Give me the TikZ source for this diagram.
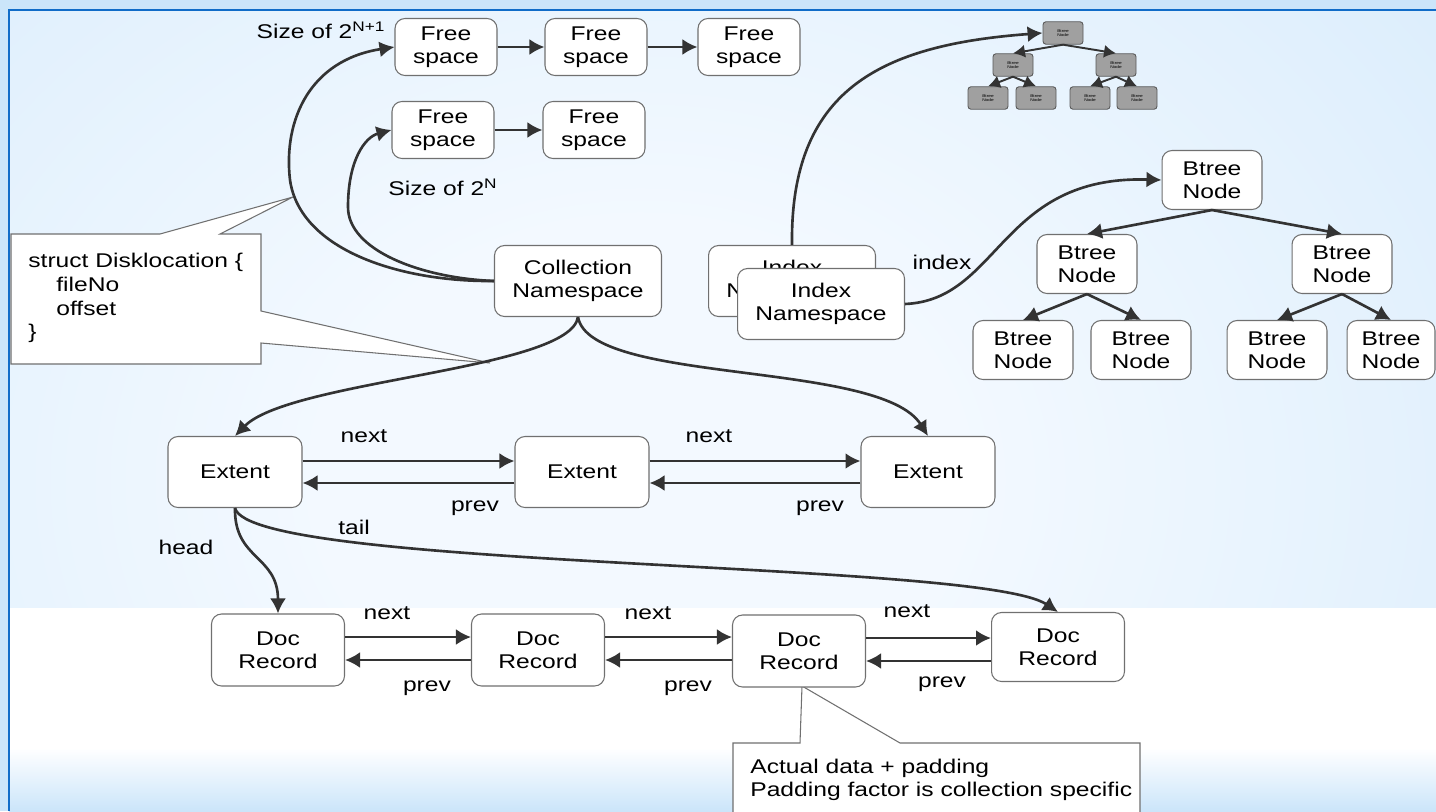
\documentclass[tikz,border=0pt]{standalone}
\usepackage{fontspec}
\setmainfont{Liberation Sans}[FakeStretch=1.24]
\usetikzlibrary{arrows.meta}

\definecolor{bgblue}{RGB}{203,229,250}
\definecolor{glowwhite}{RGB}{243,249,255}
\definecolor{frameblue}{RGB}{16,108,200}
\definecolor{boxline}{RGB}{112,112,112}
\definecolor{linkgray}{RGB}{51,51,51}
\definecolor{tinyfill}{RGB}{160,160,160}
\definecolor{tinyline}{RGB}{88,88,88}

\pgfdeclareradialshading{glow}{\pgfpoint{0bp}{0bp}}{color(0bp)=(glowwhite); color(8bp)=(glowwhite); color(38bp)=(bgblue); color(100bp)=(bgblue)}

\begin{document}
\begin{tikzpicture}[x=0.02cm,y=-0.02cm,>={Latex[length=0.3cm,width=0.32cm]},
  box/.style={draw=boxline,fill=white,rounded corners=0.2cm,line width=0.6pt,
    align=center,inner sep=0pt,font=\fontsize{11.3}{13}\selectfont},
  free/.style={box,minimum width=2.04cm,minimum height=1.14cm},
  ns/.style={box,minimum width=3.34cm,minimum height=1.42cm},
  btree/.style={box,minimum width=2cm,minimum height=1.18cm},
  extent/.style={box,minimum width=2.68cm,minimum height=1.42cm},
  doc/.style={box,minimum width=2.66cm,minimum height=1.44cm},
  tiny/.style={draw=tinyline,fill=tinyfill,rounded corners=0.06cm,line width=0.5pt,
    minimum width=0.8cm,minimum height=0.45cm,inner sep=0pt,align=center,
    font=\fontsize{2.2}{2.6}\selectfont},
  link/.style={->,draw=linkgray,line width=1.5pt},
  tinylink/.style={-{Latex[length=0.24cm,width=0.26cm]},draw=linkgray,line width=1.1pt},
  lbl/.style={inner sep=0pt,font=\fontsize{11.3}{13}\selectfont},
  note/.style={draw=boxline,fill=white,line width=0.6pt}]

  \useasboundingbox (0,0) rectangle (1436,811);

  % background and frame
  \fill[bgblue] (0,0) rectangle (1436,811);
  \begin{scope}
    \clip (9,10) rectangle (1436,608);
    \shade[shading=glow] (-360,-320) rectangle (1640,1280);
  \end{scope}
  \fill[white] (9,608) rectangle (1436,748);
  \shade[top color=white,bottom color=bgblue] (9,748) rectangle (1436,811);
  \draw[frameblue,line width=0.05cm] (9,811) -- (9,10) -- (1436,10);

  % callouts
  \filldraw[note] (11,234) -- (160,234) -- (293,197) -- (220,234) -- (261,234)
    -- (261,311) -- (490,363) -- (261,343) -- (261,364) -- (11,364) -- cycle;
  \node[lbl,anchor=west,align=left,font=\fontsize{11.3}{13.6}\selectfont] (disk) at (28,298)
    {struct Disklocation \{\\\hspace*{0.56cm}fileNo\\\hspace*{0.56cm}offset\\\}};
  \filldraw[note] (733,815) -- (733,743) -- (800,743) -- (802,686) -- (900,743)
    -- (1140,743) -- (1140,815);
  \node[lbl,anchor=west,align=left] (pad) at (750,780)
    {Actual data + padding\\Padding\ factor is collection specific};

  % free space lists
  \node[free] (fa1) at (446,47) {Free\\space};
  \node[free] (fa2) at (596,47) {Free\\space};
  \node[free] (fa3) at (749,47) {Free\\space};
  \node[free] (fb1) at (443,130) {Free\\space};
  \node[free] (fb2) at (594,130) {Free\\space};
  \node[lbl] (big) at (321,30) {Size of 2\textsuperscript{N+1}};
  \node[lbl] (small) at (443,187) {Size of 2\textsuperscript{N}};

  % namespaces
  \node[ns] (coll) at (578,281) {Collection\\Namespace};
  \node[ns] (idxb) at (792,281) {Index\\Namespace};
  \node[ns] (idx) at (821,304) {Index\\Namespace};

  % the small tree
  \node[tiny] (t) at (1063,33) {Btree\\Node};
  \node[tiny] (tl) at (1013,65) {Btree\\Node};
  \node[tiny] (tr) at (1116,65) {Btree\\Node};
  \node[tiny] (tll) at (988,98) {Btree\\Node};
  \node[tiny] (tlr) at (1036,98) {Btree\\Node};
  \node[tiny] (trl) at (1090,98) {Btree\\Node};
  \node[tiny] (trr) at (1137,98) {Btree\\Node};

  % the btree
  \node[btree] (bt) at (1212,180) {Btree\\Node};
  \node[btree] (btl) at (1087,264) {Btree\\Node};
  \node[btree] (btr) at (1342,264) {Btree\\Node};
  \node[btree] (btll) at (1023,350) {Btree\\Node};
  \node[btree] (btlr) at (1141,350) {Btree\\Node};
  \node[btree] (btrl) at (1277,350) {Btree\\Node};
  \node[btree,minimum width=1.76cm] (btrr) at (1391,350) {Btree\\Node};

  % extents and records
  \node[extent] (e1) at (235,472) {Extent};
  \node[extent] (e2) at (582,472) {Extent};
  \node[extent] (e3) at (928,472) {Extent};
  \node[doc] (d1) at (278,650) {Doc\\Record};
  \node[doc] (d2) at (538,650) {Doc\\Record};
  \node[doc] (d3) at (799,651) {Doc\\Record};
  \node[doc,minimum height=1.38cm] (d4) at (1058,647) {Doc\\Record};

  % free space chains
  \draw[link] (fa1.east) -- (fa2.west);
  \draw[link] (fa2.east) -- (fa3.west);
  \draw[link] (fb1.east) -- (fb2.west);
  \draw[link] (coll.west) .. controls (400,282) and (300,250) .. (290,180)
    .. controls (283,120) and (310,60) .. (fa1.west);
  \draw[link] (coll.west) .. controls (420,278) and (348,250) .. (348,207)
    .. controls (348,160) and (365,137) .. (fb1.west);

  % collection to its extents
  \draw[link] (coll.south) .. controls (570,370) and (290,380) .. (e1.north);
  \draw[link] (coll.south) .. controls (590,385) and (880,360) .. (e3.north);

  % indexes
  \draw[link] (idxb.north) .. controls (790,90) and (880,45) .. (t.west);
  \draw[link] (idx.east) .. controls (1000,300) and (1000,175) .. (bt.west);
  \foreach \a/\b in {t/tl,t/tr,tl/tll,tl/tlr,tr/trl,tr/trr}
    \draw[tinylink] (\a.south) -- (\b.north);
  \foreach \a/\b in {bt/btl,bt/btr,btl/btll,btl/btlr,btr/btrl,btr/btrr}
    \draw[link] (\a.south) -- (\b.north);

  % extent list
  \foreach \a/\b in {e1/e2,e2/e3} {
    \draw[link] ([yshift=0.22cm]\a.east) -- ([yshift=0.22cm]\a.east -| \b.west);
    \draw[link] ([yshift=-0.22cm]\b.west) -- ([yshift=-0.22cm]\b.west -| \a.east);
  }

  % head and tail of the records
  \draw[link] (e1.south) .. controls (234,560) and (278,555) .. (d1.north);
  \draw[link] (e1.south) .. controls (250,570) and (980,560) .. (d4.north);

  % record list
  \foreach \a/\b in {d1/d2,d2/d3,d3/d4} {
    \draw[link] ([yshift=0.26cm]\a.east) -- ([yshift=0.26cm]\a.east -| \b.west);
    \draw[link] ([yshift=-0.2cm]\a.east -| \b.west) -- ([yshift=-0.2cm]\a.east);
  }

  % link labels
  \node[lbl] (n1) at (364,436) {next};
  \node[lbl] (p1) at (475,508) {prev};
  \node[lbl] (n2) at (709,436) {next};
  \node[lbl] (p2) at (820,508) {prev};
  \node[lbl] (head) at (186,547) {head};
  \node[lbl] (tail) at (354,527) {tail};
  \node[lbl] (index) at (942,262) {index};
  \node[lbl] (n3) at (387,613) {next};
  \node[lbl] (p3) at (427,688) {prev};
  \node[lbl] (n4) at (648,613) {next};
  \node[lbl] (p4) at (688,688) {prev};
  \node[lbl] (n5) at (907,611) {next};
  \node[lbl] (p5) at (942,684) {prev};

\end{tikzpicture}
\end{document}
